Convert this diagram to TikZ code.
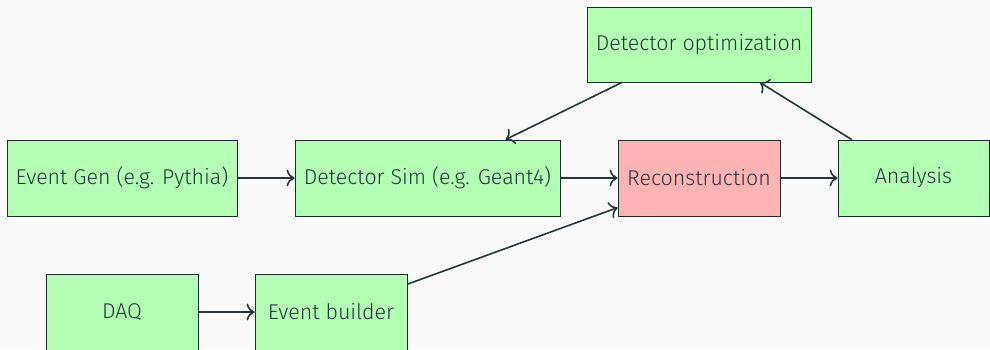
\documentclass[tikz,border=0pt]{standalone}
\usepackage{fontspec}
\setmainfont{Fira Sans}[UprightFont=* Light]
\usepackage{tikz}
\usetikzlibrary{arrows,arrows.meta}

\definecolor{bgcol}{HTML}{FAFAFA}
\definecolor{boxgreen}{HTML}{B3FFB3}
\definecolor{boxred}{HTML}{FFB3B3}
\definecolor{darkteal}{HTML}{23373B}

\begin{document}
\begin{tikzpicture}[inner sep=0pt, minimum height=38pt, font=\fontsize{10.7}{13}\selectfont]
    \tikzstyle{stage}=[rectangle, fill=boxgreen, draw=darkteal!80!black, thin, text=darkteal]
    \tikzstyle{reco}=[stage, fill=boxred]
    \tikzstyle{flow}=[-{To[scale=1.2]}, draw=darkteal, thick]

    \path[use as bounding box, fill=bgcol] (0,0) rectangle (495pt,-174.5pt);

    \node[stage, minimum width=115pt] (gen) at (61pt,-89pt) {Event Gen (e.g. Pythia)};
    \node[stage, minimum width=132.5pt] (sim) [right of=gen, node distance=152.75pt] {Detector Sim (e.g. Geant4)};
    \node[reco, minimum width=81pt] (rec) [right of=sim, node distance=135.75pt] {Reconstruction};
    \node[stage, minimum width=75.5pt] (ana) [right of=rec, node distance=107.25pt] {Analysis};
    \node[stage, minimum width=112pt, minimum height=37.5pt] (opt) [above of=rec, node distance=66.75pt] {Detector optimization};
    \node[stage, minimum width=76pt] (daq) [below of=gen, node distance=67pt] {DAQ};
    \node[stage, minimum width=76pt] (bld) [right of=daq, node distance=104.5pt] {Event builder};

    \draw[flow] (gen) to (sim);
    \draw[flow] (sim) to (rec);
    \draw[flow] (rec) to (ana);
    \draw[flow] (ana) to (opt);
    \draw[flow] (opt) to (sim);
    \draw[flow] (daq) to (bld);
    \draw[flow] (bld) to (rec);
\end{tikzpicture}
\end{document}
